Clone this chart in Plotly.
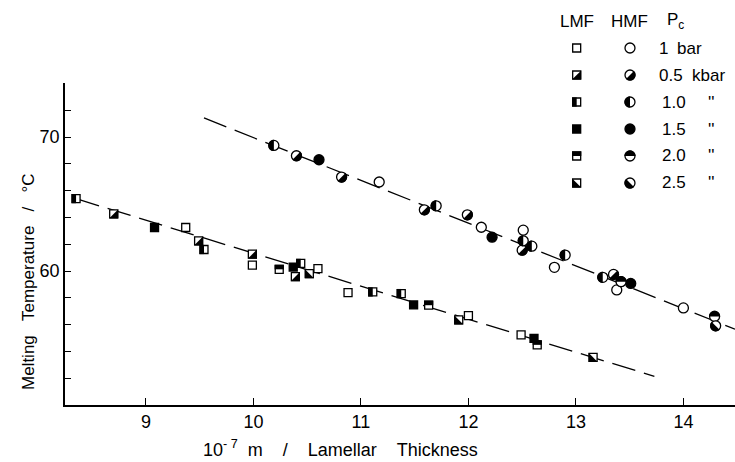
import math
import plotly.graph_objects as go

# ---- lamellar thickness (10^-7 m) and melting temperature (deg C) ----
# low-melting fraction (LMF), drawn as squares
lmf_x_1bar = [9.37, 9.99, 10.60, 10.88, 12.00, 12.49]
lmf_t_1bar = [63.25, 60.45, 60.18, 58.39, 56.68, 55.24]
lmf_x_05 = [8.70, 9.49, 9.99, 10.39]
lmf_t_05 = [64.27, 62.26, 61.26, 59.58]
lmf_x_10 = [8.35, 9.54, 10.44, 11.11, 11.375]
lmf_t_10 = [65.41, 61.61, 60.57, 58.44, 58.32]
lmf_x_15 = [9.08, 10.37, 11.49, 12.61]
lmf_t_15 = [63.25, 60.30, 57.47, 54.97]
lmf_x_20 = [10.24, 11.63, 12.64]
lmf_t_20 = [60.13, 57.45, 54.49]
lmf_x_25 = [10.52, 11.91, 13.16]
lmf_t_25 = [59.81, 56.35, 53.56]

# high-melting fraction (HMF), drawn as circles
hmf_x_1bar = [11.17, 12.12, 12.51, 12.80, 13.38, 14.00]
hmf_t_1bar = [66.65, 63.27, 63.05, 60.28, 58.59, 57.25]
hmf_x_05 = [10.40, 10.82, 11.59, 11.99, 12.50, 13.35]
hmf_t_05 = [68.61, 67.02, 64.57, 64.20, 61.56, 59.75]
hmf_x_10 = [10.19, 11.70, 12.51, 12.59, 12.90, 13.25]
hmf_t_10 = [69.38, 64.87, 62.26, 61.86, 61.19, 59.53]
hmf_x_15 = [10.61, 12.22, 13.51]
hmf_t_15 = [68.31, 62.53, 59.08]
hmf_x_20 = [13.42, 14.29]
hmf_t_20 = [59.21, 56.61]
hmf_x_25 = [14.30]
hmf_t_25 = [55.91]

# straight-line fits through each fraction
lmf_fit_x = [8.35, 13.73]
lmf_fit_t = [65.40, 52.14]
hmf_fit_x = [9.54, 14.48]
hmf_fit_t = [71.43, 55.66]

# crystallisation pressures (key)
pressure_values = ["1", "0.5", "1.0", "1.5", "2.0", "2.5"]
pressure_units = ["bar", "kbar", "''", "''", "''", "''"]

# axis ticks
x_ticks = [9, 10, 11, 12, 13, 14]
y_ticks = [60, 70]
y_minor_ticks = [52, 54, 56, 58, 62, 64, 66, 68, 72]

# ---------------------------------------------------------------------
W, H = 735, 462
PLOT_L, PLOT_T, PLOT_B = 65, 83, 405
FONT = "Liberation Sans, Arial, sans-serif"
INK = "black"

lmf_series = [(lmf_x_1bar, lmf_t_1bar), (lmf_x_05, lmf_t_05), (lmf_x_10, lmf_t_10),
              (lmf_x_15, lmf_t_15), (lmf_x_20, lmf_t_20), (lmf_x_25, lmf_t_25)]
hmf_series = [(hmf_x_1bar, hmf_t_1bar), (hmf_x_05, hmf_t_05), (hmf_x_10, hmf_t_10),
              (hmf_x_15, hmf_t_15), (hmf_x_20, hmf_t_20), (hmf_x_25, hmf_t_25)]

# how each pressure is filled: open, diagonal, vertical half, solid, top half, other diagonal
fill_kind = ["open", "diag_a", "left", "solid", "top", "diag_b"]
disk_angle = {"diag_a": -45, "left": 180, "top": 90, "diag_b": -135}

SQ_SIZE, CI_SIZE, EDGE = 8, 10, 1.3
K = 0.5523


def half_disk_path(r, ang_deg):
    """Filled half disk (pixel offsets, y up) facing direction ang_deg."""
    def pt(a):
        return r * math.cos(a), r * math.sin(a)
    a = math.radians(ang_deg + 90)
    x0, y0 = pt(a)
    path = "M{:.2f},{:.2f}".format(x0, y0)
    for _ in range(2):
        b = a - math.pi / 2
        xa, ya = pt(a)
        xb, yb = pt(b)
        c1 = (xa + K * r * math.sin(a), ya - K * r * math.cos(a))
        c2 = (xb - K * r * math.sin(b), yb + K * r * math.cos(b))
        path += " C{:.2f},{:.2f} {:.2f},{:.2f} {:.2f},{:.2f}".format(c1[0], c1[1], c2[0], c2[1], xb, yb)
        a = b
    return path + " Z"


def half_square_path(h, kind):
    pts = {
        "diag_a": [(-h, -h), (h, -h), (h, h)],
        "left": [(-h, -h), (0, -h), (0, h), (-h, h)],
        "top": [(-h, 0), (h, 0), (h, h), (-h, h)],
        "diag_b": [(-h, h), (-h, -h), (h, -h)],
    }[kind]
    return "M" + " L".join("{:.2f},{:.2f}".format(px, py) for px, py in pts) + " Z"


def half_fill_shapes(xs, ys, kind, square, xref, yref):
    if kind in ("open", "solid"):
        return []
    path = half_square_path(SQ_SIZE / 2 + 0.6, kind) if square else half_disk_path(CI_SIZE / 2 + 0.6, disk_angle[kind])
    return [dict(type="path", xref=xref, yref=yref, xsizemode="pixel", ysizemode="pixel",
                 xanchor=x, yanchor=y, path=path, fillcolor=INK,
                 line=dict(width=0, color=INK), layer="above")
            for x, y in zip(xs, ys)]


def marker_trace(xs, ys, kind, square, xaxis="x", yaxis="y"):
    return go.Scatter(
        x=xs, y=ys, mode="markers", xaxis=xaxis, yaxis=yaxis, showlegend=False,
        hoverinfo="skip", cliponaxis=False,
        marker=dict(symbol="square" if square else "circle",
                    size=SQ_SIZE if square else CI_SIZE,
                    color=INK if kind == "solid" else "white",
                    line=dict(color=INK, width=EDGE)))


fig = go.Figure()

# fitted lines
for fx, ft in ((lmf_fit_x, lmf_fit_t), (hmf_fit_x, hmf_fit_t)):
    fig.add_trace(go.Scatter(x=fx, y=ft, mode="lines", showlegend=False, hoverinfo="skip",
                             line=dict(color=INK, width=1.3, dash="24px,9px")))

shapes = []
for (xs, ys), kind in zip(lmf_series, fill_kind):
    fig.add_trace(marker_trace(xs, ys, kind, True))
    shapes += half_fill_shapes(xs, ys, kind, True, "x", "y")
for (xs, ys), kind in zip(hmf_series, fill_kind):
    fig.add_trace(marker_trace(xs, ys, kind, False))
    shapes += half_fill_shapes(xs, ys, kind, False, "x", "y")

# key: columns 0 (LMF) and 1 (HMF), rows 1..6 below a header row 0
rows = list(range(1, len(pressure_values) + 1))
for i, kind in enumerate(fill_kind):
    for col, square in ((0, True), (1, False)):
        fig.add_trace(marker_trace([col], [rows[i]], kind, square, "x2", "y2"))
        shapes += half_fill_shapes([col], [rows[i]], kind, square, "x2", "y2")

annotations = []
txt = dict(family=FONT, size=17, color=INK)
for label, col in (("LMF", 0), ("HMF", 1), ("P<sub>c</sub>", 1.86)):
    annotations.append(dict(xref="x2", yref="y2", x=col, y=0, text=label, showarrow=False,
                            xanchor="center", yanchor="middle", font=txt))
for i, (val, unit) in enumerate(zip(pressure_values, pressure_units)):
    annotations.append(dict(xref="x2", yref="y2", x=1.5 if i < 2 else 1.56, y=rows[i], text=val,
                            showarrow=False, xanchor="left", yanchor="middle", font=txt))
    if unit == "bar":
        ux, anchor = 1.84, "left"
    elif unit == "kbar":
        ux, anchor = 2.13, "left"
    else:
        ux, anchor = 2.52, "center"
    annotations.append(dict(xref="x2", yref="y2", x=ux, y=rows[i], text=unit, showarrow=False,
                            xanchor=anchor, yanchor="middle", font=txt))

sp = "\u00a0\u00a0\u00a0\u00a0"
annotations.append(dict(xref="paper", yref="paper", x=340 / W, y=1 - 448 / H,
                        text="10<sup>-\u00a07</sup>" + "\u00a0\u00a0m" + sp + "/" + sp + "Lamellar" + sp + "Thickness",
                        showarrow=False, xanchor="center", yanchor="middle",
                        font=dict(family=FONT, size=18, color=INK)))
annotations.append(dict(xref="paper", yref="paper", x=28 / W, y=1 - 282 / H,
                        text="Melting" + "\u00a0\u00a0\u00a0" + "Temperature" + "\u00a0\u00a0\u00a0" + "/"
                             + "\u00a0\u00a0\u00a0" + "\u00b0C",
                        textangle=-90, showarrow=False, xanchor="center", yanchor="middle",
                        font=dict(family=FONT, size=17, color=INK)))

axis_common = dict(showgrid=False, zeroline=False, showline=True, linecolor=INK, linewidth=1.6,
                   ticks="inside", tickcolor=INK, tickwidth=1.2,
                   tickfont=dict(family=FONT, size=18, color=INK))

fig.update_layout(
    width=W, height=H, margin=dict(l=0, r=0, t=0, b=0),
    paper_bgcolor="white", plot_bgcolor="white", showlegend=False,
    xaxis=dict(domain=[PLOT_L / W, 1.0], range=[8.247, 14.48], anchor="y",
               tickmode="array", tickvals=x_ticks, ticktext=[str(v) for v in x_ticks],
               ticklen=7, **axis_common),
    yaxis=dict(domain=[1 - PLOT_B / H, 1 - PLOT_T / H], range=[50.0, 74.04], anchor="x",
               tickmode="array", tickvals=y_ticks, ticktext=[str(v) for v in y_ticks],
               ticklen=6,
               minor=dict(tickmode="array", tickvals=y_minor_ticks, ticks="inside",
                          ticklen=6, tickcolor=INK, tickwidth=1.2),
               **axis_common),
    xaxis2=dict(domain=[560 / W, 1.0], range=[-0.313, 2.97], anchor="y2", visible=False),
    yaxis2=dict(domain=[1 - 200 / H, 1.0], range=[6.63, -0.778], anchor="x2", visible=False),
    shapes=shapes,
    annotations=annotations,
)

fig.write_html("out.html")
